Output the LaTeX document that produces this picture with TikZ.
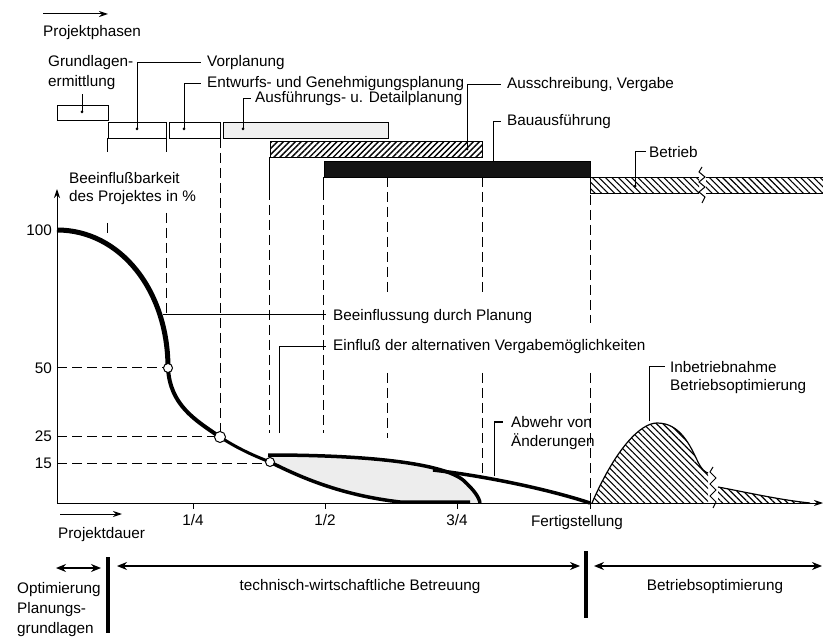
\documentclass[tikz,border=0pt]{standalone}
\usepackage{fontspec}
\setmainfont{Liberation Sans}
\usetikzlibrary{arrows.meta,patterns.meta}
\begin{document}
\begin{tikzpicture}[x=1pt,y=-1pt,
  lbl/.style={font=\fontsize{15.3}{20}\selectfont, inner sep=0pt},
  ln/.style={line width=1pt},
  dsh/.style={line width=1pt, dash pattern=on 10pt off 5pt},
  leader/.style={line width=1pt, shorten >=6pt},
  phasebox/.style={draw, line width=1pt, anchor=north west, inner sep=0pt},
  hatchNE/.style={pattern={Lines[angle=45,distance=4.2pt,line width=1.4pt]}},
  hatchNW/.style={pattern={Lines[angle=-45,distance=4.6pt,line width=1.1pt]}},
  ldot/.style={circle, fill, inner sep=0pt, minimum size=3pt},
  ring/.style={circle, draw, fill=white, line width=1pt, inner sep=0pt},
  tip/.style={-{Stealth[length=9pt,width=6pt]}},
  dbl/.style={{Stealth[length=10pt,width=8pt]}-{Stealth[length=10pt,width=8pt]}, line width=1.2pt}
]
\useasboundingbox (0,0) rectangle (823,639);

% ---------- project phases ----------
\draw[tip, line width=1pt] (43,14) -- (108,14);
\node[lbl, anchor=west] (phasen) at (43,33) {Projektphasen};

\node[phasebox, minimum width=51pt, minimum height=15pt] (b1) at (57,105) {};
\node[phasebox, minimum width=58pt, minimum height=16pt] (b2) at (108,122) {};
\node[phasebox, minimum width=51pt, minimum height=16pt] (b3) at (169,122) {};
\node[phasebox, fill=gray!12, minimum width=165pt, minimum height=16pt] (b4) at (223,122) {};
\node[phasebox, hatchNE, minimum width=212pt, minimum height=16pt] (b5) at (270,141) {};
\node[phasebox, fill=black!92, minimum width=266pt, minimum height=16pt] (b6) at (324,161) {};

% operation bar, broken by a squiggle
\fill[hatchNW] (590,178) rectangle (699,194);
\fill[hatchNW] (706,178) rectangle (823,194);
\draw[ln] (699,178) -- (590,178) -- (590,194) -- (699,194);
\draw[ln] (706,178) -- (823,178) (706,194) -- (823,194);
\draw[ln] (702,167) -- (699,172) -- (705,177) -- (699,182) -- (705,187) -- (699,192) -- (705,197) -- (702,203);

% phase labels
\node[lbl, anchor=west] (t1a) at (48,63) {Grundlagen-};
\node[lbl, anchor=west] (t1b) at (48,83) {ermittlung};
\node[lbl, anchor=west] (t2) at (207,63) {Vorplanung};
\node[lbl, anchor=west] (t3) at (207,84) {Entwurfs- und Genehmigungsplanung};
\node[lbl, anchor=west] (t4) at (255,99) {Ausführungs- u. Detailplanung};
\node[lbl, anchor=west] (t5) at (507,85) {Ausschreibung, Vergabe};
\node[lbl, anchor=west] (t6) at (507,122) {Bauausführung};
\node[lbl, anchor=west] (t7) at (649,152) {Betrieb};

\coordinate (c1) at (82,112);
\coordinate (c2) at (137,129);
\coordinate (c3) at (184,129);
\coordinate (c4) at (243,129);
\coordinate (c5) at (467,149);
\coordinate (c6) at (493,161);
\coordinate (c7) at (635,186);
\node[ldot] at (c1) {};
\node[ldot] at (c2) {};
\node[ldot] at (c3) {};
\node[ldot] at (c4) {};
\node[ldot] at (c5) {};
\node[ldot] at (c7) {};
\draw[ln] (c1) -- ++(0,-18);
\draw[leader] (c2) |- (t2.west);
\draw[leader] (c3) |- (t3.west);
\draw[leader, shorten >=4pt] (c4) |- (t4.west);
\draw[leader] (c5) |- (t5.west);
\draw[leader] (c6) |- (t6.west);
\draw[leader, shorten >=3pt] (c7) |- (t7.west);

% ---------- phase boundaries ----------
\draw[ln] (107,138) -- (107,152);
\draw[dsh] (107,223) -- (107,238);
\draw[ln] (166,138) -- (166,152);
\draw[dsh] (166,213) -- (166,315);
\draw[dsh] (220,138) -- (220,437);
\draw[ln] (269,157) -- (269,200);
\draw[dsh] (269,205) -- (269,433);
\draw[ln] (323,177) -- (323,200);
\draw[dsh] (323,205) -- (323,433);
\draw[dsh] (387,177) -- (387,292);
\draw[dsh] (387,373) -- (387,438);
\draw[dsh] (482,177) -- (482,292);
\draw[dsh] (482,373) -- (482,473);
\draw[dsh] (590,195) -- (590,323);
\draw[dsh] (590,373) -- (590,503);

% ---------- axes ----------
\draw[tip, line width=1pt] (57,503) -- (57,189);
\draw[tip, line width=1pt] (57,503) -- (823,503);
\node[lbl, anchor=west] (yl1) at (69,178) {Beeinflußbarkeit};
\node[lbl, anchor=west] (yl2) at (69,198) {des Projektes in \%};
\node[lbl, anchor=east] (y100) at (52,230) {100};
\node[lbl, anchor=east] (y50) at (52,368) {50};
\node[lbl, anchor=east] (y25) at (52,436) {25};
\node[lbl, anchor=east] (y15) at (52,463) {15};
\foreach \xx in {193,325,457,590} \draw[ln] (\xx,503) -- (\xx,509);
\node[lbl] (q1) at (193,520) {1/4};
\node[lbl] (q2) at (325,520) {1/2};
\node[lbl] (q3) at (457,520) {3/4};
\node[lbl] (fert) at (577,523) {Fertigstellung};
\draw[tip, line width=1pt] (60,514) -- (122,514);
\node[lbl, anchor=west] (dauer) at (58,535) {Projektdauer};

% level guides
\draw[dsh] (57,368) -- (168,368);
\draw[dsh] (57,436) -- (220,436);
\draw[dsh] (57,463) -- (270,463);

% ---------- influence curves ----------
\fill[gray!14] (268,455) .. controls (360,455) and (440,462) .. (463,480)
  .. controls (474,490) and (479,497) .. (480,503) -- (400,502)
  .. controls (340,495) and (300,477) .. (270,462) -- cycle;
\draw[line width=3.5pt] (268,455) .. controls (360,455) and (440,462) .. (463,480)
  .. controls (474,490) and (479,497) .. (480,503);
\draw[line width=3.5pt] (433,470) .. controls (500,478) and (560,493) .. (590,503);
\draw[line width=5pt] (57,230) .. controls (120,230) and (168,290) .. (168,368);
\draw[line width=4pt] (168,368) .. controls (170,405) and (195,420) .. (220,437);
\draw[line width=3pt] (220,437) .. controls (237,448) and (252,455) .. (270,462);
\draw[line width=3.5pt] (270,462) .. controls (300,477) and (340,495) .. (400,502) -- (470,502);

\node[ring, minimum size=9pt] (p50) at (168,368) {};
\node[ring, minimum size=11pt] (p25) at (220,437) {};
\node[ring, minimum size=9pt] (p15) at (270,462) {};

% commissioning hump
\fill[hatchNW] (592,503) .. controls (615,450) and (640,423) .. (657,423)
  .. controls (680,423) and (690,445) .. (698,462)
  .. controls (702,470) and (705,472) .. (708,473) -- (708,503) -- cycle;
\draw[line width=1.2pt] (592,503) .. controls (615,450) and (640,423) .. (657,423)
  .. controls (680,423) and (690,445) .. (698,462)
  .. controls (702,470) and (705,472) .. (708,473);
\fill[hatchNW] (718,487) .. controls (745,492) and (780,500) .. (810,503) -- (718,503) -- cycle;
\draw[line width=1.2pt] (718,487) .. controls (745,492) and (780,500) .. (810,503);
\draw[ln] (713,467) -- (710,472) -- (716,478) -- (710,484) -- (716,490) -- (710,496) -- (716,502) -- (713,508);

% curve annotations
\node[lbl, anchor=west] (t8) at (333,317) {Beeinflussung durch Planung};
\node[lbl, anchor=west] (t9) at (333,347) {Einfluß der alternativen Vergabemöglichkeiten};
\node[lbl, anchor=west] (t10a) at (670,367) {Inbetriebnahme};
\node[lbl, anchor=west] (t10b) at (670,387) {Betriebsoptimierung};
\node[lbl, anchor=west] (t11a) at (511,422) {Abwehr von};
\node[lbl, anchor=west] (t11b) at (511,442) {Änderungen};
\coordinate (c8) at (163,315);
\coordinate (c9) at (279,433);
\coordinate (c10) at (649,421);
\coordinate (c11) at (494,476);
\draw[ln, shorten >=7pt] (c8) -- (c8 -| t8.west);
\draw[leader, shorten >=7pt] (c9) |- (t9.west);
\draw[leader, shorten >=5pt] (c10) |- (t10a.west);
\draw[leader, shorten >=8pt] (c11) |- (t11a.west);

% ---------- service periods ----------
\draw[dbl] (56,568) -- (101,568);
\draw[dbl] (117,566) -- (580,566);
\draw[dbl] (594,566) -- (822,566);
\draw[line width=4pt] (108,557) -- (108,633);
\draw[line width=4pt] (586,551) -- (586,618);
\node[lbl, anchor=west] (o1) at (17,590) {Optimierung};
\node[lbl, anchor=west] (o2) at (17,610) {Planungs-};
\node[lbl, anchor=west] (o3) at (17,630) {grundlagen};
\node[lbl] (tw) at (360,587) {technisch-wirtschaftliche Betreuung};
\node[lbl] (bo) at (715,587) {Betriebsoptimierung};
\end{tikzpicture}
\end{document}
